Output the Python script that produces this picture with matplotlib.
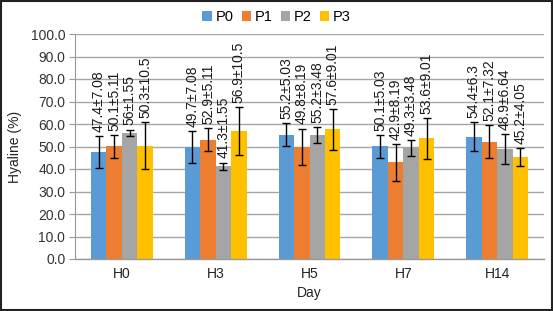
import matplotlib
matplotlib.use("Agg")
import matplotlib.pyplot as plt
import numpy as np
from matplotlib.patches import Rectangle

plt.rcParams['font.family'] = ['Liberation Sans', 'DejaVu Sans']

days = ["H0", "H3", "H5", "H7", "H14"]
groups = ["P0", "P1", "P2", "P3"]
means = {
    "P0": [47.4, 49.7, 55.2, 50.1, 54.4],
    "P1": [50.1, 52.9, 49.8, 42.9, 52.1],
    "P2": [56.0, 41.3, 55.2, 49.3, 48.9],
    "P3": [50.3, 56.9, 57.6, 53.6, 45.2],
}
sds = {
    "P0": [7.08, 7.08, 5.03, 5.03, 6.3],
    "P1": [5.11, 5.11, 8.19, 8.19, 7.32],
    "P2": [1.55, 1.55, 3.48, 3.48, 6.64],
    "P3": [10.5, 10.5, 9.01, 9.01, 4.05],
}
labels = {
    "P0": ["47.4±7.08", "49.7±7.08", "55.2±5.03", "50.1±5.03", "54.4±6.3"],
    "P1": ["50.1±5.11", "52.9±5.11", "49.8±8.19", "42.9±8.19", "52.1±7.32"],
    "P2": ["56±1.55", "41.3±1.55", "55.2±3.48", "49.3±3.48", "48.9±6.64"],
    "P3": ["50.3±10.5", "56.9±10.5", "57.6±9.01", "53.6±9.01", "45.2±4.05"],
}
colors = ["#5B9BD5", "#ED7D31", "#A5A5A5", "#FFC000"]

fig = plt.figure(figsize=(5.53, 3.11), dpi=100)
ax = fig.add_axes([75/553, 1-259/311, (544-75)/553, (259-34)/311])

x = np.arange(len(days))
w = 0.165
for i, g in enumerate(groups):
    xs = x + (i - 1.5) * w
    m = np.array(means[g]); s = np.array(sds[g])
    ax.bar(xs, m, width=w, color=colors[i], label=g, zorder=2)
    ax.errorbar(xs, m, yerr=s, fmt='none', ecolor='black', elinewidth=1,
                capsize=3.2, capthick=1, zorder=3)
    for xi, mi, si, lab in zip(xs, m, s, labels[g]):
        ax.annotate(lab, (xi, mi + si), xytext=(0, 3), textcoords='offset points',
                    rotation=90, ha='center', va='bottom', fontsize=10,
                    color='#1a1a1a', zorder=4)

ax.set_xlim(-0.5, 4.5)
ax.set_ylim(0, 100)
ax.set_yticks(np.arange(0, 101, 10))
ax.set_yticklabels([f"{v:.1f}" for v in np.arange(0, 101, 10)], fontsize=10, color='#333333')
ax.set_xticks(x)
ax.set_xticklabels(days, fontsize=10, color='#222222')
ax.tick_params(axis='x', length=0, pad=6)
ax.tick_params(axis='y', length=4, width=0.8, color='#999999', pad=3)
ax.yaxis.grid(True, color='#A6A6A6', linewidth=1, zorder=0)
ax.set_axisbelow(True)
for sp in ['top', 'right']:
    ax.spines[sp].set_visible(False)
ax.spines['left'].set_color('#999999')
ax.spines['bottom'].set_color('#999999')
ax.spines['bottom'].set_linewidth(1)

ax.set_ylabel("Hyaline (%)", fontsize=10, color='#222222', labelpad=6)
ax.set_xlabel("Day", fontsize=10, color='#222222', labelpad=3)

fig.legend(loc='upper center', bbox_to_anchor=(0.5, 1.0), ncol=4, frameon=False,
           fontsize=10.5, handlelength=0.65, handleheight=0.65, handletextpad=0.25,
           columnspacing=0.55, borderaxespad=0.3)

fig.add_artist(Rectangle((0.002, 0.003), 0.996, 0.994, transform=fig.transFigure,
                         fill=False, edgecolor='#222222', linewidth=1.5))

fig.savefig("out.png", dpi=100)
